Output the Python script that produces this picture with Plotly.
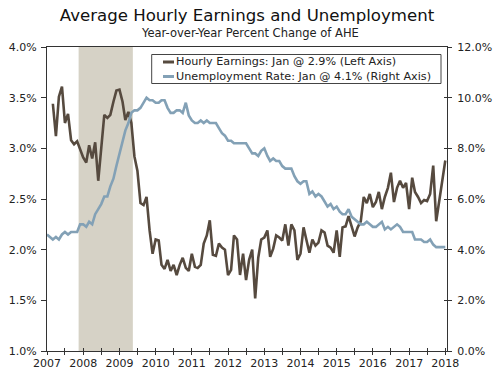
import pandas as pd
import plotly.graph_objects as go

# ---------------- data ----------------
title_text = "Average Hourly Earnings and Unemployment"
subtitle_text = "Year-over-Year Percent Change of AHE"

earn_name = "Hourly Earnings: Jan @ 2.9% (Left Axis)"
unemp_name = "Unemployment Rate: Jan @ 4.1% (Right Axis)"

earn_start = "2007-03-01"
earnings = [
    3.44, 3.12, 3.51, 3.61, 3.25, 3.34, 3.08, 3.04, 3.07, 2.98,
    2.91, 2.86, 3.03, 2.90, 3.06, 2.68, 3.00, 3.33, 3.30, 3.33,
    3.46, 3.57, 3.58, 3.46, 3.28, 3.36, 3.25, 2.92, 2.78, 2.46,
    2.44, 2.52, 2.19, 1.96, 2.10, 2.09, 1.85, 1.81, 1.90, 1.79,
    1.85, 1.75, 1.85, 1.92, 1.82, 1.79, 1.96, 1.83, 1.82, 1.85,
    2.06, 2.14, 2.29, 1.95, 1.94, 2.06, 2.02, 2.00, 1.75, 1.80,
    2.14, 2.10, 1.75, 1.96, 1.70, 1.90, 2.00, 1.52, 1.92, 2.10,
    2.12, 2.19, 1.93, 2.01, 2.14, 2.12, 2.09, 2.25, 2.04, 2.25,
    2.19, 1.90, 1.96, 2.22, 2.10, 1.97, 2.10, 2.04, 2.07, 2.19,
    2.17, 2.04, 2.02, 1.97, 2.19, 1.93, 2.22, 2.23, 2.33, 2.22,
    2.13, 2.22, 2.28, 2.52, 2.46, 2.55, 2.42, 2.47, 2.57, 2.40,
    2.52, 2.61, 2.76, 2.47, 2.61, 2.68, 2.61, 2.66, 2.40, 2.71,
    2.57, 2.52, 2.46, 2.49, 2.48, 2.55, 2.83, 2.28, 2.50, 2.70,
    2.88,
]

unemp_start = "2007-01-01"
unemployment = [
    4.6, 4.5, 4.4, 4.5, 4.4, 4.6, 4.7, 4.6, 4.7, 4.7, 4.7, 5.0,
    5.0, 4.9, 5.1, 5.0, 5.4, 5.6, 5.8, 6.1, 6.1, 6.5, 6.8, 7.3,
    7.8, 8.3, 8.7, 9.0, 9.4, 9.5, 9.5, 9.6, 9.8, 10.0, 9.9, 9.9,
    9.8, 9.8, 9.9, 9.9, 9.6, 9.4, 9.4, 9.5, 9.5, 9.4, 9.8, 9.3,
    9.1, 9.0, 9.0, 9.1, 9.0, 9.1, 9.0, 9.0, 9.0, 8.8, 8.6, 8.5,
    8.3, 8.3, 8.2, 8.2, 8.2, 8.2, 8.2, 8.0, 7.8, 7.8, 7.7, 7.9,
    8.0, 7.7, 7.5, 7.6, 7.5, 7.5, 7.3, 7.2, 7.2, 7.2, 6.9, 6.7,
    6.6, 6.7, 6.7, 6.2, 6.3, 6.1, 6.2, 6.1, 5.9, 5.7, 5.8, 5.6,
    5.7, 5.5, 5.4, 5.4, 5.6, 5.3, 5.2, 5.1, 5.0, 5.0, 5.1, 5.0,
    4.9, 4.9, 5.0, 5.1, 4.8, 4.9, 4.8, 4.9, 5.0, 4.9, 4.7, 4.7,
    4.7, 4.7, 4.4, 4.4, 4.4, 4.3, 4.3, 4.4, 4.2, 4.1, 4.1, 4.1,
    4.1,
]

recession_start = "2007-11-16"
recession_end = "2009-05-16"

left_range = [1.0, 4.0]
right_range = [0.0, 12.0]
x_range = ["2007-01-01", "2018-01-18"]

# ---------------- styling ----------------
FONT = "DejaVu Sans"
TXT = "#222222"
AXC = "#333333"
BROWN = "#564a3f"
BLUE = "#83a1b6"
SHADE = "#d6d2c6"

W, H = 500, 376
L, R, T, B = 47, 53, 47, 25
PW, PH = W - L - R, H - T - B


def pxx(x):
    return (x - L) / PW


def pxy(y):
    return (H - B - y) / PH


earn_x = pd.date_range(earn_start, periods=len(earnings), freq="MS")
unemp_x = pd.date_range(unemp_start, periods=len(unemployment), freq="MS")

fig = go.Figure()
fig.add_trace(go.Scatter(x=earn_x, y=earnings, mode="lines", name=earn_name,
                         line=dict(color=BROWN, width=2.6), yaxis="y"))
fig.add_trace(go.Scatter(x=unemp_x, y=unemployment, mode="lines", name=unemp_name,
                         line=dict(color=BLUE, width=2.6), yaxis="y2"))
# invisible helper trace so the inner-tick overlay axes are drawn
fig.add_trace(go.Scatter(x=unemp_x, y=unemployment, mode="lines", xaxis="x2",
                         yaxis="y3", line=dict(width=0, color="rgba(0,0,0,0)"),
                         hoverinfo="skip", showlegend=False))

shapes = [
    dict(type="rect", xref="x", yref="paper", x0=recession_start, x1=recession_end,
         y0=0, y1=1, fillcolor=SHADE, line=dict(width=0), layer="below"),
    # legend box
    dict(type="rect", xref="paper", yref="paper", x0=pxx(151.7), x1=pxx(441),
         y0=pxy(83.5), y1=pxy(54.5), fillcolor="white",
         line=dict(color="#444444", width=1), layer="above"),
    dict(type="line", xref="paper", yref="paper", x0=pxx(163), x1=pxx(174),
         y0=pxy(62), y1=pxy(62), line=dict(color=BROWN, width=3)),
    dict(type="line", xref="paper", yref="paper", x0=pxx(163), x1=pxx(174),
         y0=pxy(76.5), y1=pxy(76.5), line=dict(color=BLUE, width=3)),
]

annotations = [
    dict(text=subtitle_text, xref="paper", yref="paper", x=pxx(250), y=pxy(33),
         xanchor="center", yanchor="middle", showarrow=False,
         font=dict(family=FONT, size=11.5, color=TXT)),
    dict(text=earn_name, xref="paper", yref="paper", x=pxx(174), y=pxy(62),
         xanchor="left", yanchor="middle", showarrow=False,
         font=dict(family=FONT, size=11.2, color=TXT)),
    dict(text=unemp_name, xref="paper", yref="paper", x=pxx(174), y=pxy(76.5),
         xanchor="left", yanchor="middle", showarrow=False,
         font=dict(family=FONT, size=11.2, color=TXT)),
]

fig.update_layout(
    template="none",
    width=W, height=H,
    margin=dict(l=L, r=R, t=T, b=B, pad=0, autoexpand=False),
    paper_bgcolor="white", plot_bgcolor="white",
    showlegend=False,
    hovermode=False,
    title=dict(text=title_text, x=0.5, xanchor="center", xref="paper",
               y=1 - 15 / H, yanchor="middle", yref="container",
               font=dict(family=FONT, size=16.6, color="#111111")),
    font=dict(family=FONT, size=11, color=TXT),
    shapes=shapes,
    annotations=annotations,
    xaxis=dict(type="date", range=x_range, dtick="M12", tick0="2007-01-01",
               tickformat="%Y", showgrid=False, zeroline=False, automargin=False,
               showline=True, linecolor=AXC, linewidth=1, mirror=True,
               ticks="outside", ticklen=3, tickcolor=AXC, ticklabelstandoff=-1,
               minor=dict(dtick="M6", ticks="outside", ticklen=3, tickcolor=AXC,
                          showgrid=False),
               tickfont=dict(family=FONT, size=11, color=TXT)),
    xaxis2=dict(type="date", range=x_range, dtick="M12", tick0="2007-01-01",
                overlaying="x", side="bottom", showgrid=False, zeroline=False,
                automargin=False, showline=False, showticklabels=False,
                ticks="inside", ticklen=3, tickcolor=AXC,
                minor=dict(dtick="M6", ticks="inside", ticklen=3, tickcolor=AXC,
                           showgrid=False)),
    yaxis=dict(range=left_range, dtick=0.5, tickformat=".1f", ticksuffix="%",
               showgrid=False, zeroline=False, showline=True, linecolor=AXC,
               linewidth=1, ticks="outside", ticklen=5, tickcolor=AXC,
               ticklabelstandoff=2, automargin=False,
               tickfont=dict(family=FONT, size=11, color=TXT)),
    yaxis2=dict(range=right_range, dtick=2, tickformat=".1f", ticksuffix="%",
                overlaying="y", side="right", showgrid=False, zeroline=False,
                showline=True, linecolor=AXC, linewidth=1, ticks="outside",
                ticklen=4, tickcolor=AXC, ticklabelstandoff=3, automargin=False,
                tickfont=dict(family=FONT, size=11, color=TXT)),
    yaxis3=dict(range=right_range, dtick=2, overlaying="y", side="right",
                showgrid=False, zeroline=False, showline=False,
                showticklabels=False, ticks="inside", ticklen=3,
                tickcolor=AXC, automargin=False),
)

fig.write_html("out.html",
               config={"displayModeBar": False},
               post_script="document.body.style.margin='0';document.body.style.padding='0';")
